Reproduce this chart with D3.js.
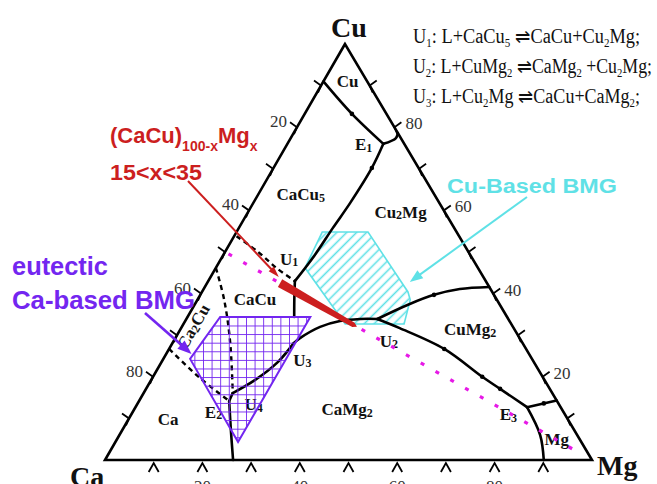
<!DOCTYPE html>
<html>
<head>
<meta charset="utf-8">
<script src="https://cdn.jsdelivr.net/npm/d3@7"></script>
<style>
  html, body { margin: 0; padding: 0; background: #fff; }
  svg { display: block; }
</style>
</head>
<body>
<svg id="chart" width="657" height="484"></svg>
<script>
// Ca–Cu–Mg liquidus projection. Every composition is [Cu at.%, Mg at.%]; Ca is the rest.

const tickSteps = [10, 20, 30, 40, 50, 60, 70, 80, 90];
const tickLabels = [20, 40, 60, 80];

// solid univariant lines
const lineCuE1    = [[91, 0], [83.2, 9.7], [76.0, 19.7]];
const lineE1Side  = [[76.0, 19.7], [77.4, 21.6], [78.6, 21.4]];
const lineE1U1    = [[76.0, 19.7], [70.2, 20.2], [61.8, 19.9], [55.8, 19.3], [49.3, 18.8], [43.0, 17.8]];
const lineU1Down  = [[43.0, 17.8], [38.5, 19.9], [34.4, 21.9]];
const lineU3U2    = [[28.1, 24.9], [29.3, 25.6], [32.0, 28.4], [33.4, 31.8], [33.9, 35.7], [33.9, 39.2]];
const lineU2Side  = [[33.9, 39.2], [37.5, 44.1], [39.7, 48.0], [41.1, 52.6], [41.6, 58.4]];
const lineU2E3    = [[33.9, 39.2], [31.7, 44.9], [26.7, 56.5], [20.0, 67.6], [17.1, 72.7], [12.7, 80.4]];
const lineE3Side  = [[12.7, 80.4], [14.3, 85.7]];
const lineE3Base  = [[12.7, 80.4], [6.0, 86.4], [0, 90.1]];
const lineU3U4    = [[28.1, 24.9], [23.6, 23.9], [19.2, 21.3], [16.1, 18.3]];
const lineU4E2    = [[16.1, 18.3], [14.2, 18.5]];
const lineE2Base  = [[14.2, 18.5], [7.2, 22.3], [0, 26.3]];
// dashed (estimated) lines
const dashCaCu5CaCu = [[53.8, 0.5], [50.0, 6.8], [46.2, 12.4], [43.0, 17.8]];
const dashCaCuCa2Cu = [[46.2, 0], [38.5, 5.5], [28.4, 11.7], [16.1, 18.3]];
const dashCa2CuCa   = [[26.7, 0], [19.7, 9.8], [14.2, 18.5]];
// direction marks along the lines
const lineMarks = [[83.2, 9.7], [70.2, 20.2], [39.7, 48.0], [26.7, 56.5], [20.0, 67.6], [17.1, 72.7], [13.6, 83.4]];

// glass-forming regions
const cuBmgRegion = [[54.8, 17.6], [54.8, 27.0], [40.4, 42.3], [38.5, 43.7], [32.7, 45.3], [32.7, 33.2], [46.2, 18.3]];
const caBmgRegion = [[34.4, 6.7], [34.4, 25.2], [4.3, 25.2], [24.3, 5.5]];

// (CaCu)100-x Mgx section
const sectionMg = [0, 96];        // dotted CaCu–Mg join, Mg range drawn
const alloyMgRange = [15, 35];    // 15 < x < 35

// region and point labels: segments [text, small], anchor composition
const phaseLabels = [
  { segs: [["Cu", 0]], at: [89.7, 5.6] },
  { segs: [["E", 0], ["1", 1]], at: [74.5, 16.4] },
  { segs: [["CaCu", 0], ["5", 1]], at: [62.5, 9.4] },
  { segs: [["Cu", 0], ["2", 1], ["Mg", 0]], at: [58.2, 32.0] },
  { segs: [["U", 0], ["1", 1]], at: [46.9, 14.7] },
  { segs: [["CaCu", 0]], at: [37.3, 12.4] },
  { segs: [["U", 0], ["3", 1]], at: [22.6, 29.4] },
  { segs: [["CuMg", 0], ["2", 1]], at: [30.0, 60.2] },
  { segs: [["U", 0], ["2", 1]], at: [27.2, 44.9] },
  { segs: [["CaMg", 0], ["2", 1]], at: [10.8, 44.4] },
  { segs: [["Ca", 0]], at: [8.4, 8.8] },
  { segs: [["E", 0], ["2", 1]], at: [10.1, 17.3] },
  { segs: [["U", 0], ["4", 1]], at: [12.0, 24.6] },
  { segs: [["E", 0], ["3", 1]], at: [9.6, 78.1] },
  { segs: [["Mg", 0]], at: [3.6, 91.0] }
];
const ca2CuLabel = { segs: [["Ca", 0], ["2", 1], ["Cu", 0]], at: [32.0, 2.5] };

const reactions = [
  [["U", 0], ["1", 1], [": L+CaCu", 0], ["5", 1], [" \u21CC", 0], ["CaCu+Cu", 0], ["2", 1], ["Mg;", 0]],
  [["U", 0], ["2", 1], [": L+CuMg", 0], ["2", 1], [" \u21CC", 0], ["CaMg", 0], ["2", 1], [" +Cu", 0], ["2", 1], ["Mg;", 0]],
  [["U", 0], ["3", 1], [": L+Cu", 0], ["2", 1], ["Mg \u21CC", 0], ["CaCu+CaMg", 0], ["2", 1], [";", 0]]
];

// arrow targets
const alloyArrowTarget = [44.0, 14.0];
const caBmgArrowTarget = [25.5, 5.2];
const cuBmgArrowTarget = [42.8, 41.5];

// ---- scales ----
const xMg = d3.scaleLinear().domain([0, 100]).range([105, 592]);
const xCu = d3.scaleLinear().domain([0, 100]).range([0, 240]);
const yCu = d3.scaleLinear().domain([0, 100]).range([460, 44]);
const P = ([cu, mg]) => [xMg(mg) + xCu(cu), yCu(cu)];

const serif = "'Liberation Serif','Times New Roman',Times,serif";
const sans = "'Liberation Sans',Arial,Helvetica,sans-serif";
const RED = "#cc1f1f", CYAN = "#5fe1e6", PURPLE = "#7326f0", MAGENTA = "#e619e6";

const svg = d3.select("#chart");
const defs = svg.append("defs");

defs.append("pattern").attr("id", "hatch")
  .attr("patternUnits", "userSpaceOnUse").attr("width", 7).attr("height", 7)
  .attr("patternTransform", "rotate(-45)")
  .append("line").attr("x1", 0).attr("y1", 3.5).attr("x2", 7).attr("y2", 3.5)
  .attr("stroke", CYAN).attr("stroke-width", 1.6);

const gridStep = 8.6;
const gridOrigin = P(caBmgRegion[0]);
const grid = defs.append("pattern").attr("id", "grid")
  .attr("patternUnits", "userSpaceOnUse").attr("width", gridStep).attr("height", gridStep)
  .attr("x", gridOrigin[0]).attr("y", gridOrigin[1]);
grid.append("line").attr("x1", 0).attr("y1", 0).attr("x2", gridStep).attr("y2", 0)
  .attr("stroke", PURPLE).attr("stroke-width", 1.8);
grid.append("line").attr("x1", 0).attr("y1", 0).attr("x2", 0).attr("y2", gridStep)
  .attr("stroke", PURPLE).attr("stroke-width", 1.8);

const smooth = d3.line().x(d => P(d)[0]).y(d => P(d)[1]).curve(d3.curveCatmullRom.alpha(0.5));
const straight = d3.line().x(d => P(d)[0]).y(d => P(d)[1]);

// Cu-based BMG region
svg.append("path").attr("d", straight(cuBmgRegion) + "Z")
  .attr("fill", "url(#hatch)").attr("stroke", CYAN).attr("stroke-width", 1.6);

// triangle frame
svg.append("path").attr("d", straight([[100, 0], [0, 0], [0, 100]]) + "Z")
  .attr("fill", "none").attr("stroke", "#000").attr("stroke-width", 2.6).attr("stroke-linejoin", "miter");

// ticks
const ticks = svg.append("g").attr("stroke", "#000").attr("stroke-width", 1.8).attr("fill", "none");
tickSteps.forEach(v => {
  const [bx, by] = P([0, v]);                 // Mg axis along the base
  ticks.append("path").attr("d", `M${bx - 5},${by + 12}L${bx},${by + 3}L${bx + 5},${by + 12}`);
  const [lx, ly] = P([100 - v, 0]);           // Ca axis along the left side
  ticks.append("path").attr("d", `M${lx - 7},${ly - 5}L${lx},${ly}L${lx - 3},${ly + 7}`);
  const [rx, ry] = P([v, 100 - v]);           // Cu axis along the right side
  ticks.append("path").attr("d", `M${rx + 7},${ry - 5}L${rx},${ry}L${rx + 3},${ry + 7}`);
});
const tickText = svg.append("g").attr("font-family", serif).attr("font-size", 17).attr("fill", "#333");
tickLabels.forEach(v => {
  const [lx, ly] = P([100 - v, 0]);
  tickText.append("text").attr("x", lx - 10).attr("y", ly).attr("text-anchor", "end").text(v);
  const [rx, ry] = P([v, 100 - v]);
  tickText.append("text").attr("x", rx + 11).attr("y", ry + 2).text(v);
  const [bx, by] = P([0, v]);
  tickText.append("text").attr("x", bx).attr("y", by + 32).attr("text-anchor", "middle").text(v);
});

// boundary lines
const solid = [lineCuE1, lineE1Side, lineE1U1, lineU1Down, lineU3U2, lineU2Side, lineU2E3,
               lineE3Side, lineE3Base, lineU3U4, lineU4E2, lineE2Base];
svg.append("g").selectAll("path").data(solid).join("path")
  .attr("d", smooth).attr("fill", "none").attr("stroke", "#000")
  .attr("stroke-width", 2.6).attr("stroke-linecap", "round").attr("stroke-linejoin", "round");
svg.append("g").selectAll("path").data([dashCaCu5CaCu, dashCaCuCa2Cu, dashCa2CuCa]).join("path")
  .attr("d", smooth).attr("fill", "none").attr("stroke", "#000")
  .attr("stroke-width", 2.4).attr("stroke-dasharray", "5,4");
svg.append("g").selectAll("circle").data(lineMarks).join("circle")
  .attr("cx", d => P(d)[0]).attr("cy", d => P(d)[1]).attr("r", 2.3).attr("fill", "#000");

// rich text helper: small digits set slightly below the baseline
function rich(text, segs, subSize, subDy) {
  let down = false;
  segs.forEach(([s, small]) => {
    const ts = text.append("tspan").text(s);
    if (small) { ts.attr("font-size", subSize).attr("dy", down ? 0 : subDy); down = true; }
    else { ts.attr("dy", down ? -subDy : 0); down = false; }
  });
  return text;
}

// phase labels
const labels = svg.append("g").attr("font-family", serif).attr("font-weight", "bold")
  .attr("font-size", 17).attr("fill", "#111");
phaseLabels.forEach(l => {
  const [x, y] = P(l.at);
  rich(labels.append("text").attr("x", x).attr("y", y).attr("text-anchor", "middle"), l.segs, 12, 1.5);
});
{
  const [x, y] = P(ca2CuLabel.at);
  rich(labels.append("text").attr("transform", `translate(${x},${y}) rotate(-60)`)
    .attr("text-anchor", "middle").attr("y", 5), ca2CuLabel.segs, 12, 1.5);
}

// Ca-based BMG region
svg.append("path").attr("d", straight(caBmgRegion) + "Z")
  .attr("fill", "url(#grid)").attr("stroke", PURPLE).attr("stroke-width", 2);

// dotted CaCu–Mg join
svg.append("path").attr("d", straight(sectionMg.map(t => [50 * (1 - t / 100), t])))
  .attr("fill", "none").attr("stroke", MAGENTA).attr("stroke-width", 3.2)
  .attr("stroke-dasharray", "4,13").attr("stroke-dashoffset", -4);

// (CaCu)100-x Mgx, 15<x<35 band, tapering toward higher Mg
{
  const s = P([50 - alloyMgRange[0] / 2, alloyMgRange[0]]);
  const e = P([50 - alloyMgRange[1] / 2, alloyMgRange[1]]);
  const len = Math.hypot(e[0] - s[0], e[1] - s[1]);
  const ux = (e[0] - s[0]) / len, uy = (e[1] - s[1]) / len;
  const nx = -uy, ny = ux;
  const pts = [
    [s[0] + nx * 4.4, s[1] + ny * 4.4],
    [e[0] + nx * 2.4, e[1] + ny * 2.4],
    [e[0] + ux * 4, e[1] + uy * 4],
    [e[0] - nx * 2.4, e[1] - ny * 2.4],
    [s[0] - nx * 4.4, s[1] - ny * 4.4]
  ];
  svg.append("path").attr("d", d3.line()(pts) + "Z").attr("fill", RED);
}

// annotation arrows
function arrow(from, to, color, width, headLen, headHalf) {
  const dx = to[0] - from[0], dy = to[1] - from[1], L = Math.hypot(dx, dy);
  const ux = dx / L, uy = dy / L;
  const bx = to[0] - ux * headLen, by = to[1] - uy * headLen;
  svg.append("line").attr("x1", from[0]).attr("y1", from[1]).attr("x2", bx + ux).attr("y2", by + uy)
    .attr("stroke", color).attr("stroke-width", width);
  svg.append("path").attr("d", d3.line()([to, [bx - uy * headHalf, by + ux * headHalf], [bx + uy * headHalf, by - ux * headHalf]]) + "Z")
    .attr("fill", color);
}
arrow([188, 181], P(alloyArrowTarget), RED, 2, 11, 3.5);
arrow([145, 313], P(caBmgArrowTarget), PURPLE, 2.6, 14, 5.5);
arrow([527, 197], P(cuBmgArrowTarget), CYAN, 2, 13, 5);

// reaction list
const reactionWidths = [227, 239, 227];
reactions.forEach((segs, i) => {
  const t = svg.append("text").attr("x", 413).attr("y", 43 + i * 30)
    .attr("font-family", serif).attr("font-size", 20).attr("fill", "#111")
    .attr("textLength", reactionWidths[i]).attr("lengthAdjust", "spacingAndGlyphs");
  rich(t, segs, 12, 4);
});

// vertex names
const vnames = svg.append("g").attr("font-family", serif).attr("font-weight", "bold")
  .attr("font-size", 28).attr("fill", "#111");
vnames.append("text").attr("x", P([100, 0])[0] + 4).attr("y", 37).attr("text-anchor", "middle").text("Cu");
vnames.append("text").attr("x", 70).attr("y", 486).text("Ca");
vnames.append("text").attr("x", 597).attr("y", 475).text("Mg");

// red composition label
{
  const t = svg.append("text").attr("x", 110).attr("y", 143)
    .attr("font-family", sans).attr("font-weight", "bold").attr("font-size", 22).attr("fill", RED);
  rich(t, [["(CaCu)", 0], ["100-x", 1], ["Mg", 0], ["x", 1]], 14, 8);
  svg.append("text").attr("x", 110).attr("y", 180)
    .attr("font-family", sans).attr("font-weight", "bold").attr("font-size", 22).attr("fill", RED)
    .attr("textLength", 92).attr("lengthAdjust", "spacingAndGlyphs").text("15<x<35");
}
svg.append("text").attr("x", 447).attr("y", 193)
  .attr("font-family", sans).attr("font-weight", "bold").attr("font-size", 20).attr("fill", CYAN)
  .attr("textLength", 170).attr("lengthAdjust", "spacingAndGlyphs").text("Cu-Based BMG");
svg.append("text").attr("x", 12).attr("y", 275)
  .attr("font-family", sans).attr("font-weight", "bold").attr("font-size", 25).attr("fill", PURPLE)
  .attr("textLength", 96).attr("lengthAdjust", "spacingAndGlyphs").text("eutectic");
svg.append("text").attr("x", 12).attr("y", 309)
  .attr("font-family", sans).attr("font-weight", "bold").attr("font-size", 25).attr("fill", PURPLE)
  .attr("textLength", 183).attr("lengthAdjust", "spacingAndGlyphs").text("Ca-based BMG");
</script>
</body>
</html>
